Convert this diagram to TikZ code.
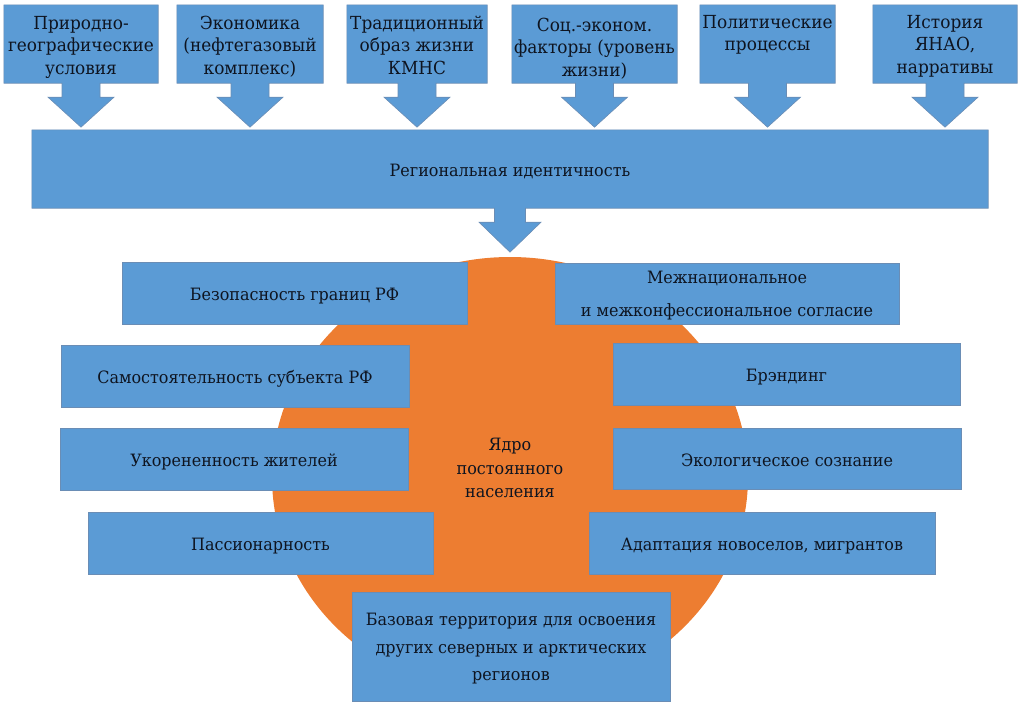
\documentclass[tikz,border=0pt]{standalone}
\usepackage{fontspec}
\newfontfamily\tnr[FakeStretch=0.94]{DejaVu Serif}
\usetikzlibrary{calc,shapes.geometric}
\definecolor{boxblue}{HTML}{5B9BD5}
\definecolor{coreor}{HTML}{ED7D31}
\definecolor{edgeblue}{HTML}{6A8DB5}
\definecolor{ink}{HTML}{0E1420}
\pgfdeclarelayer{bg}
\pgfsetlayers{bg,main}
\begin{document}
\begin{tikzpicture}[x=1pt,y=-1pt,
  txt/.style={font=\tnr\fontsize{17}{22.5}\selectfont, align=center, text=ink, inner sep=0pt},
  toptxt/.style={txt, font=\tnr\fontsize{18}{22.5}\selectfont, anchor=north},
  frame/.style={inner sep=0pt, minimum width=#1},
  blk/.style={txt, fill=boxblue, draw=edgeblue, line width=0.6pt, minimum width=#1, text height=19.5pt, text depth=4pt},
  callout/.style={fill=boxblue, draw=edgeblue, line width=0.6pt, line join=miter},
  core/.style={ellipse, fill=coreor, inner sep=0pt, minimum width=476pt, minimum height=440pt}]
\useasboundingbox (0,0) rectangle (1024,707);

% core ellipse
\node[core] (core) at (510,477) {};
\node[txt, font=\tnr\fontsize{17}{23.5}\selectfont] (coretxt) at (510,468) {Ядро\\постоянного\\населения};

% top factor frames (shapes drawn on background layer)
\node[frame=154pt, minimum height=78pt] (b1) at (81,44) {};
\node[frame=146pt, minimum height=78pt] (b2) at (250,44) {};
\node[frame=140pt, minimum height=78pt] (b3) at (417,44) {};
\node[frame=165pt, minimum height=78pt] (b4) at (594.5,44) {};
\node[frame=135pt, minimum height=78pt] (b5) at (767.5,44) {};
\node[frame=144pt, minimum height=78pt] (b6) at (945,44) {};

\node[toptxt] (t1) at ($(b1.north)+(0,11)$) {Природно-\\географические\\условия};
\node[toptxt] (t2) at ($(b2.north)+(0,11)$) {Экономика\\(нефтегазовый\\комплекс)};
\node[toptxt] (t3) at ($(b3.north)+(0,11)$) {Традиционный\\образ жизни\\КМНС};
\node[toptxt] (t4) at ($(b4.north)+(0,13)$) {Соц.-эконом.\\факторы (уровень\\жизни)};
\node[toptxt] (t5) at ($(b5.north)+(0,10)$) {Политические\\процессы};
\node[toptxt] (t6) at ($(b6.north)+(0,10)$) {История\\ЯНАО,\\нарративы};

% regional identity frame
\node[frame=956pt, minimum height=78pt] (rb) at (510,169) {};
\node[txt] (rt) at (510,171) {Региональная идентичность};

% components
\node[blk=345pt, minimum height=62pt] (m1) at (294.5,293) {Безопасность границ РФ};
\node[blk=344pt, minimum height=61pt] (m2) at (727,293.5) {};
\node[txt, font=\tnr\fontsize{17}{33}\selectfont] (m2t) at (727,296) {Межнациональное\\и межконфессиональное согласие};
\node[blk=348pt, minimum height=62pt] (m3) at (235,376) {Самостоятельность субъекта РФ};
\node[blk=347pt, minimum height=62pt] (m4) at (786.5,374) {Брэндинг};
\node[blk=348pt, minimum height=62pt] (m5) at (234,459) {Укорененность жителей};
\node[blk=348pt, minimum height=61pt] (m6) at (787,458.5) {Экологическое сознание};
\node[blk=345pt, minimum height=62pt] (m7) at (260.5,543) {Пассионарность};
\node[blk=346pt, minimum height=62pt] (m8) at (762,543) {Адаптация новоселов, мигрантов};
\node[blk=318pt, minimum height=109pt] (m9) at (511,646.5) {};
\node[txt, font=\tnr\fontsize{17}{27.5}\selectfont] (m9t) at (511,649) {Базовая территория для освоения\\других северных и арктических\\регионов};

\begin{pgfonlayer}{bg}
  \foreach \b in {b1,b2,b3,b4,b5,b6}{
    \draw[callout] (\b.north west) -- (\b.north east) -- (\b.south east)
      -- ($(\b.south)+(19,0)$) -- ($(\b.south)+(19,14)$) -- ($(\b.south)+(33,14)$)
      -- ($(\b.south)+(0,44)$)
      -- ($(\b.south)+(-33,14)$) -- ($(\b.south)+(-19,14)$) -- ($(\b.south)+(-19,0)$)
      -- (\b.south west) -- cycle;
  }
  \draw[callout] (rb.north west) -- (rb.north east) -- (rb.south east)
    -- ($(rb.south)+(15.5,0)$) -- ($(rb.south)+(15.5,14)$) -- ($(rb.south)+(31,14)$)
    -- ($(rb.south)+(0,44)$)
    -- ($(rb.south)+(-31,14)$) -- ($(rb.south)+(-15.5,14)$) -- ($(rb.south)+(-15.5,0)$)
    -- (rb.south west) -- cycle;
\end{pgfonlayer}
\end{tikzpicture}
\end{document}
